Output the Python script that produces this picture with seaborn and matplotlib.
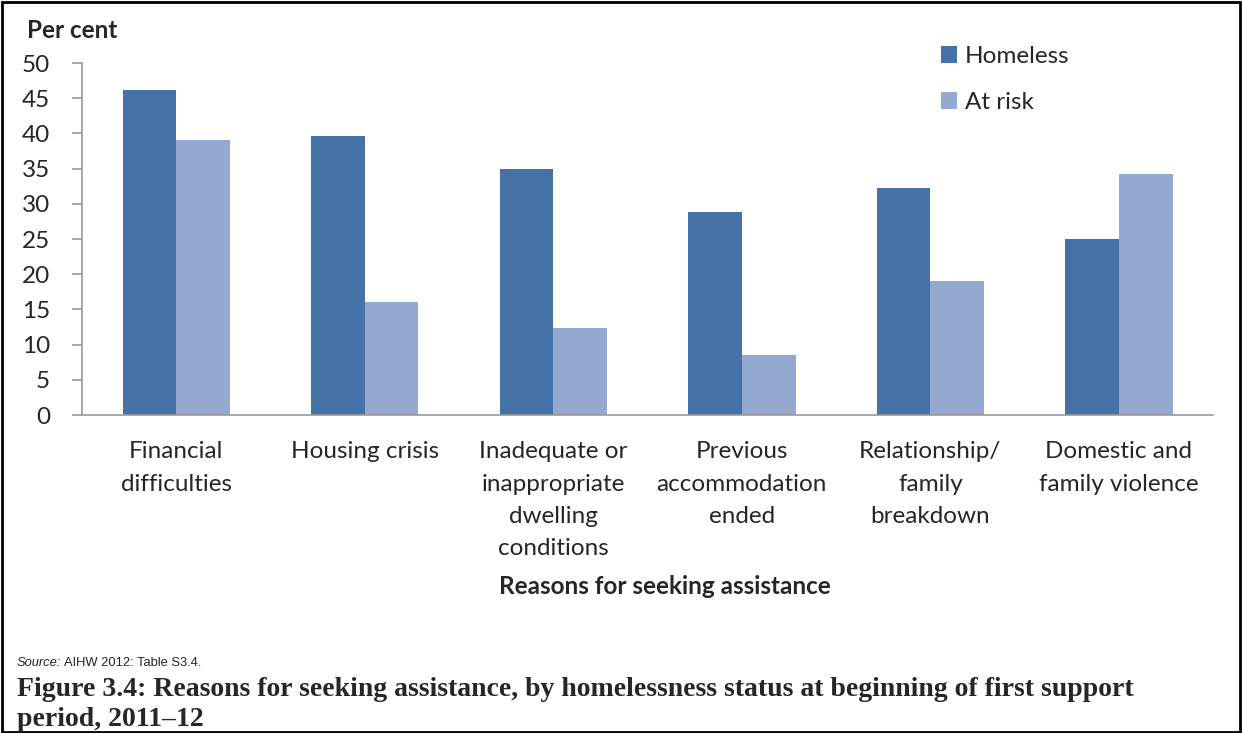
import matplotlib
matplotlib.use("Agg")
import matplotlib.pyplot as plt
import seaborn as sns
import pandas as pd
from matplotlib import font_manager
from matplotlib.patches import Patch, Rectangle

reasons = [
    "Financial\ndifficulties",
    "Housing crisis",
    "Inadequate or\ninappropriate\ndwelling\nconditions",
    "Previous\naccommodation\nended",
    "Relationship/\nfamily\nbreakdown",
    "Domestic and\nfamily violence",
]
homeless = [46.2, 39.7, 34.9, 28.9, 32.3, 25.0]
at_risk = [39.1, 16.0, 12.4, 8.5, 19.1, 34.2]
series = ["Homeless", "At risk"]
y_ticks = [0, 5, 10, 15, 20, 25, 30, 35, 40, 45, 50]

colors = {"Homeless": "#4572A7", "At risk": "#94A9D0"}

df = pd.DataFrame({
    "reason": reasons * 2,
    "status": [series[0]] * len(reasons) + [series[1]] * len(reasons),
    "value": homeless + at_risk,
})

sns.set_theme(style="white")
plt.rcParams["font.family"] = ["Lato", "DejaVu Sans"]
FS = 17.5

installed = {f.name for f in font_manager.fontManager.ttflist}
if "Liberation Sans Narrow" in installed:
    src_family, src_size = "Liberation Sans Narrow", 10.5
else:
    src_family, src_size = "Liberation Sans", 9.3

fig = plt.figure(figsize=(12.42, 7.33), dpi=100)
ax = fig.add_axes([0.066, 0.4338, 0.9107, 0.4802])

sns.barplot(data=df, x="reason", y="value", hue="status", order=reasons,
            hue_order=series, palette=colors, width=0.57, saturation=1,
            edgecolor="none", linewidth=0, ax=ax, legend=False)

ax.set_ylim(0, 50)
ax.set_xlim(-0.5, len(reasons) - 0.5)
ax.set_yticks(y_ticks)
ax.set_yticklabels([str(t) for t in y_ticks], fontsize=FS)
ax.set_xticks(range(len(reasons)))
ax.set_xticklabels(reasons, fontsize=FS, linespacing=1.66, va="top")
ax.set_xticks([i - 0.5 for i in range(len(reasons) + 1)], minor=True)
ax.tick_params(axis="x", which="major", length=0, pad=19)
ax.tick_params(axis="x", which="minor", length=8, width=1.2, color="#999999", direction="out")
ax.tick_params(axis="y", which="major", length=7, width=1.2, color="#999999", direction="out", left=True, pad=16)
ax.set_xlabel("")
ax.set_ylabel("")
for s in ["top", "right"]:
    ax.spines[s].set_visible(False)
for s in ["left", "bottom"]:
    ax.spines[s].set_color("#999999")
    ax.spines[s].set_linewidth(1.2)

fig.text(27 / 1242, 1 - 30 / 733, "Per cent", fontsize=FS, fontweight="bold", va="center", ha="left")

handles = [Patch(facecolor=colors[s], edgecolor="none") for s in series]
ax.legend(handles, series, loc="upper left", bbox_to_anchor=(931 / 1242, 1 - 36 / 733),
          bbox_transform=fig.transFigure, frameon=False, fontsize=FS,
          handlelength=0.68, handleheight=0.68, handletextpad=0.3, labelspacing=1.05,
          borderaxespad=0)

fig.text(665 / 1242, 1 - 587 / 733, "Reasons for seeking assistance", fontsize=FS,
         fontweight="bold", ha="center", va="center")

# Source note: italic lead-in followed by the citation
src_lead = fig.text(17 / 1242, 1 - 663 / 733, "Source:", fontsize=src_size, style="italic",
                    family=src_family, ha="left", va="center")
renderer = fig.canvas.get_renderer()
lead_box = src_lead.get_window_extent(renderer=renderer)
fig.text((lead_box.x1 + 3) / 1242, 1 - 663 / 733, "AIHW 2012: Table S3.4.", fontsize=src_size,
         family=src_family, ha="left", va="center")

fig.text(17 / 1242, 1 - 689 / 733,
         "Figure 3.4: Reasons for seeking assistance, by homelessness status at beginning of first support",
         fontsize=20, fontweight="bold", family="Liberation Serif", ha="left", va="center")
fig.text(17 / 1242, 1 - 720 / 733, "period, 2011\u201312",
         fontsize=20, fontweight="bold", family="Liberation Serif", ha="left", va="center")

fig.add_artist(Rectangle((0.0015, 0.002), 0.997, 0.995, transform=fig.transFigure,
                         fill=False, edgecolor="black", linewidth=2))

fig.savefig("out.png", dpi=100)
